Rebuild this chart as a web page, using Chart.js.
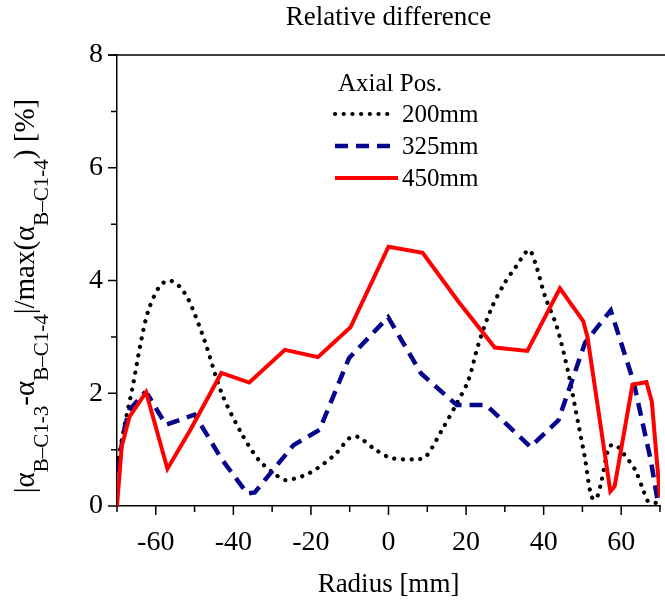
<!DOCTYPE html>
<html><head><meta charset="utf-8">
<script src="https://cdn.jsdelivr.net/npm/chart.js@4.4.1/dist/chart.umd.min.js"></script>
<style>html,body{margin:0;padding:0;overflow:hidden;background:#fff;width:665px;height:605px}canvas{display:block}</style>
</head><body>
<canvas id="c" width="680" height="605"></canvas>
<script>
// ---- texts ----
const chartTitle = 'Relative difference';
const xAxisTitle = 'Radius [mm]';
const legendTitle = 'Axial Pos.';
const seriesNames = ['200mm', '325mm', '450mm'];
const yTitleParts = [['|α', 0], ['B–C1-3', 1], ['-α', 0], ['B–C1-4', 1], ['|/max(α', 0], ['B–C1-4', 1], [') [%]', 0]];

// ---- axis ranges / ticks ----
const xRange = [-70, 70];
const yRange = [0, 8];
const xTickLabels = [-60, -40, -20, 0, 20, 40, 60];
const yTickLabels = [0, 2, 4, 6, 8];

// ---- series values ----
const x200 = [-70, -68, -66, -64, -62, -59, -56.5, -54, -51.5, -47.5, -43, -38, -33.5, -29, -26.5, -20.5, -14, -9.8, -7.7, -3.4, 0.8, 7.5, 9.6, 13.8, 17.6, 20.6, 23.1, 26.5, 29.9, 32.8, 36.2, 37.9, 40.4, 43.4, 46.4, 48.9, 50.6, 52.3, 53.5, 54.8, 56.9, 58.6, 60.7, 63.6, 65.7, 67, 70];
const y200 = [0.7, 1.45, 2.1, 2.85, 3.45, 3.9, 4.0, 3.9, 3.65, 2.95, 2.0, 1.3, 0.82, 0.55, 0.46, 0.58, 0.9, 1.22, 1.22, 1.0, 0.85, 0.83, 0.87, 1.35, 1.82, 2.23, 2.85, 3.5, 3.95, 4.24, 4.54, 4.3, 3.71, 3.18, 2.35, 1.47, 0.87, 0.17, 0.12, 0.41, 1.05, 1.08, 0.92, 0.64, 0.28, 0.08, 0.05];

const x325 = [-70, -68, -66.8, -63, -62, -57.4, -50, -46.5, -43.2, -36.4, -34.5, -24.5, -17.8, -10.2, -0.1, 8.4, 17.6, 25.2, 36.6, 43.8, 50.7, 57.3, 63.2, 67.6, 69.5, 70];
const y325 = [0.6, 1.4, 1.7, 2.0, 1.97, 1.44, 1.62, 1.23, 0.85, 0.22, 0.24, 1.08, 1.35, 2.62, 3.35, 2.35, 1.79, 1.79, 1.05, 1.52, 2.9, 3.47, 2.2, 0.82, 0.05, 0.02];

const x450 = [-70, -68.8, -66.8, -62.5, -57, -51.1, -43.1, -35.9, -26.7, -18.2, -9.8, 0, 8.8, 18.1, 27.4, 35.8, 44.2, 50.2, 51.3, 57.2, 58.3, 62.9, 66.5, 67.9, 70];
const y450 = [0.0, 1.05, 1.58, 2.02, 0.66, 1.35, 2.36, 2.19, 2.77, 2.64, 3.17, 4.6, 4.49, 3.62, 2.81, 2.75, 3.86, 3.28, 3.0, 0.26, 0.35, 2.15, 2.2, 1.85, 0.15];

const FONT = "'Liberation Serif', 'Times New Roman', serif";
const pts = (xs, ys) => xs.map((v, i) => ({x: v, y: ys[i]}));

const decor = {
  id: 'decor',
  afterDraw(chart) {
    const {ctx, chartArea: a, scales: {x, y}} = chart;
    ctx.save();
    ctx.strokeStyle = '#000';
    ctx.lineWidth = 1.5;
    ctx.beginPath();
    ctx.moveTo(a.left - 9, a.top);
    ctx.lineTo(chart.width, a.top);
    ctx.stroke();
    ctx.beginPath();
    x.ticks.forEach(t => {
      const px = x.getPixelForValue(t.value);
      const L = xTickLabels.includes(t.value) ? 9 : 6;
      ctx.moveTo(px, a.bottom);
      ctx.lineTo(px, a.bottom + L);
    });
    y.ticks.forEach(t => {
      const py = y.getPixelForValue(t.value);
      const L = yTickLabels.includes(t.value) ? 9 : 6;
      ctx.moveTo(a.left, py);
      ctx.lineTo(a.left - L, py);
    });
    ctx.stroke();

    // y-axis title with subscripts
    ctx.fillStyle = '#000';
    ctx.textBaseline = 'alphabetic';
    ctx.textAlign = 'left';
    const mainF = '29px ' + FONT, subF = '21px ' + FONT;
    let total = 0;
    yTitleParts.forEach(([s, sub]) => { ctx.font = sub ? subF : mainF; total += ctx.measureText(s).width; });
    ctx.translate(34, 296);
    ctx.rotate(-Math.PI / 2);
    let cx = -total / 2;
    yTitleParts.forEach(([s, sub]) => {
      ctx.font = sub ? subF : mainF;
      ctx.fillText(s, cx, sub ? 14 : 0);
      cx += ctx.measureText(s).width;
    });
    ctx.restore();

    // legend
    ctx.save();
    ctx.fillStyle = '#000';
    ctx.font = '25px ' + FONT;
    ctx.textBaseline = 'middle';
    ctx.textAlign = 'left';
    ctx.fillText(legendTitle, 338, 84);
    const rows = [114, 146, 178];
    [0, 1, 2].forEach((di, k) => {
      const ds = chart.data.datasets[di];
      ctx.strokeStyle = ds.borderColor;
      ctx.lineWidth = ds.borderWidth;
      ctx.lineCap = ds.borderCapStyle || 'butt';
      ctx.setLineDash(ds.borderDash || []);
      ctx.beginPath();
      ctx.moveTo(335, rows[k]);
      ctx.lineTo(di === 2 ? 398 : 391, rows[k]);
      ctx.stroke();
      ctx.setLineDash([]);
      ctx.fillText(ds.label, 402, rows[k] + 1);
    });
    ctx.restore();
  }
};

new Chart(document.getElementById('c'), {
  type: 'line',
  data: {
    datasets: [
      {label: seriesNames[0], data: pts(x200, y200), borderColor: '#000000', borderWidth: 4.2, borderDash: [0.1, 8.6], borderCapStyle: 'round', pointRadius: 0, tension: 0.3, order: 2},
      {label: seriesNames[1], data: pts(x325, y325), borderColor: '#06068c', borderWidth: 4.5, borderDash: [13, 8], borderCapStyle: 'butt', pointRadius: 0, tension: 0, order: 1},
      {label: seriesNames[2], data: pts(x450, y450), borderColor: '#ff0000', borderWidth: 4, pointRadius: 0, tension: 0, order: 0}
    ]
  },
  options: {
    responsive: false,
    animation: false,
    devicePixelRatio: 1,
    layout: {padding: {top: 0, left: 0, right: 10, bottom: 0}},
    plugins: {
      legend: {display: false},
      tooltip: {enabled: false},
      title: {display: true, text: chartTitle, fullSize: false, color: '#000',
        font: {family: FONT, size: 27, weight: 'normal'}, padding: {top: 1.5, bottom: 21.1}}
    },
    scales: {
      x: {
        type: 'linear', min: xRange[0], max: xRange[1],
        grid: {display: false, drawTicks: false},
        border: {display: true, color: '#000', width: 1.5},
        ticks: {stepSize: 10, autoSkip: false, maxRotation: 0, padding: 20, color: '#000',
          font: {family: FONT, size: 28},
          callback: v => xTickLabels.includes(v) ? String(v) : ''},
        title: {display: true, text: xAxisTitle, color: '#000', font: {family: FONT, size: 27}, padding: {top: 0, bottom: 4}},
        afterFit: s => { s.height = 99; }
      },
      y: {
        min: yRange[0], max: yRange[1],
        grid: {display: false, drawTicks: false},
        border: {display: true, color: '#000', width: 1.5},
        ticks: {stepSize: 1, autoSkip: false, padding: 14, color: '#000',
          font: {family: FONT, size: 28},
          callback: v => yTickLabels.includes(v) ? String(v) : ''},
        afterFit: s => { s.width = 117; }
      }
    }
  },
  plugins: [decor]
});
</script>
</body></html>
